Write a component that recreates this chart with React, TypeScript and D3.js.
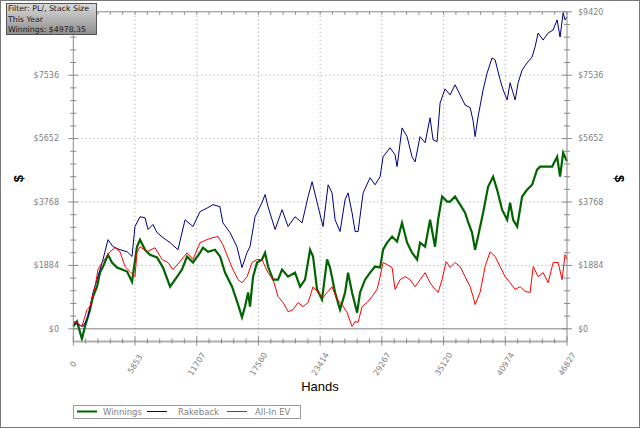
import { useEffect, useRef } from 'react'
import * as d3 from 'd3'

type Pt = [number, number] // [hands, dollars]

const handTicks = [0, 5853, 11707, 17560, 23414, 29267, 35120, 40974, 46827]
const dollarTicks = [0, 1884, 3768, 5652, 7536, 9420]
const dollarMin = -377
const seriesNames = ['Winnings', 'Rakeback', 'All-In EV']
const seriesColors = ['#006400', '#000080', '#ff0000']
const filterLines = ['Filter: PL/, Stack Size', 'This Year', 'Winnings: $4978.35']

const winnings: Pt[] = [
  [0, 70], [350, 220], [820, -300], [1110, 70], [1580, 570], [1870, 960], [2250, 1250], [2530, 1670],
  [2820, 1850], [3290, 2200], [3670, 1970], [4150, 1820], [4620, 1760], [5100, 1700], [5570, 1400],
  [6040, 2440], [6330, 2650], [6800, 2350], [7280, 2200], [7940, 2120], [8510, 1820], [9180, 1250],
  [9650, 1460], [10310, 1760], [10790, 2150], [11350, 1970], [12020, 2260], [12300, 2410], [12780, 2290],
  [13440, 2350], [13920, 2150], [14390, 1670], [15060, 1250], [15630, 720], [16000, 340], [16290, 660],
  [16580, 1080], [16760, 660], [17050, 1550], [17430, 1970], [17900, 2060], [18190, 2260], [18470, 1850],
  [18950, 1460], [19420, 1460], [19800, 1760], [20370, 1550], [21030, 1670], [21510, 1250], [21980, 1460],
  [22460, 2350], [22740, 2150], [23120, 1170], [23590, 870], [24070, 2060], [24350, 1820], [24830, 1080],
  [25300, 570], [25780, 1080], [26060, 1670], [26440, 1080], [26920, 480], [27200, 1080], [27670, 1460],
  [28150, 1670], [28620, 1850], [29100, 1820], [29380, 2350], [29760, 2560], [30240, 2740], [30710, 2590],
  [31180, 3150], [31660, 2560], [32130, 2260], [32610, 2060], [32890, 2560], [33370, 2440], [33840, 3240],
  [34310, 2440], [34600, 3240], [34980, 3930], [35450, 3780], [35740, 3780], [36210, 3930], [36690, 3690],
  [37160, 3450], [37440, 3180], [37820, 2860], [38110, 2350], [38390, 2740], [38870, 3450], [39340, 4220],
  [39820, 4520], [40200, 4130], [40670, 3540], [41150, 3240], [41430, 3750], [41720, 3240], [42100, 3040],
  [42570, 3930], [43040, 4130], [43520, 4280], [43990, 4730], [44280, 4820], [44940, 4820], [45420, 4820],
  [45890, 5110], [46170, 4520], [46460, 5230], [46827, 4978],
]

const rakeback: Pt[] = [
  [0, 190], [450, 130], [920, 70], [1390, 340], [1870, 1080], [2250, 1460], [2820, 2060], [3290, 2650],
  [3770, 2440], [4430, 2350], [5100, 2290], [5570, 2150], [5850, 3040], [6330, 3330], [6800, 3300],
  [7090, 2950], [7560, 3100], [7940, 2860], [8510, 2710], [9180, 2560], [9930, 2350], [10600, 3240],
  [11350, 3040], [12020, 3480], [12760, 3600], [13240, 3690], [13900, 3630], [14190, 3150], [14860, 2860],
  [15520, 2440], [16000, 1820], [16470, 2260], [16760, 2440], [17240, 3330], [17900, 3750], [18190, 3990],
  [18470, 3630], [19140, 2950], [19800, 3540], [20370, 3040], [21030, 3330], [21700, 3150], [22270, 3930],
  [22650, 4370], [23220, 3630], [23690, 3040], [24170, 4280], [24540, 4040], [24830, 3240], [25300, 2890],
  [25780, 3840], [26060, 4040], [26440, 3450], [26730, 2890], [27010, 2890], [27490, 4040], [28150, 4490],
  [28620, 4280], [29100, 4520], [29380, 5110], [30040, 5380], [30520, 5170], [30710, 4820], [31180, 5970],
  [31660, 5710], [32130, 5110], [32420, 4960], [32890, 5710], [33370, 5530], [33840, 6270], [34120, 5620],
  [34500, 5560], [34790, 6710], [35260, 7130], [35740, 6950], [36210, 7250], [36690, 6950], [37160, 6650],
  [37640, 6570], [37920, 6180], [38110, 5710], [38390, 6300], [38870, 7100], [39250, 7600], [39720, 8050],
  [40010, 7990], [40480, 7400], [40770, 7100], [41150, 6800], [41430, 7310], [41910, 6800], [42190, 7310],
  [42570, 7690], [43040, 7900], [43520, 8080], [43800, 8380], [44090, 8790], [44560, 8580], [45040, 8790],
  [45510, 8880], [45890, 9180], [46170, 8670], [46460, 9390], [46640, 9180], [46827, 9270],
]

const allInEV: Pt[] = [
  [0, 190], [160, 220], [820, 70], [1300, 570], [1580, 660], [2060, 1250], [2340, 1760], [2720, 1970],
  [3200, 2150], [3480, 2290], [3960, 2410], [4430, 2290], [4900, 1850], [5380, 1700], [5850, 1550],
  [6040, 2260], [6330, 2440], [6990, 2290], [7750, 2410], [8420, 2060], [8980, 1970], [9460, 1760],
  [10120, 2000], [10790, 2260], [11350, 2060], [12020, 2560], [12680, 2650], [13240, 2710], [13730, 2740],
  [14190, 2500], [14670, 2120], [15140, 1760], [15630, 1460], [16000, 1370], [16480, 1550], [16950, 1970],
  [17430, 2060], [17900, 2060], [18190, 1850], [18470, 1670], [18950, 1460], [19420, 960], [19900, 780],
  [20370, 510], [20840, 570], [21320, 780], [21790, 660], [22270, 780], [22740, 1250], [23220, 1080],
  [23690, 930], [24070, 1080], [24540, 1250], [25020, 870], [25490, 720], [25970, 480], [26440, 70],
  [26730, 220], [27010, 190], [27390, 660], [27860, 780], [28340, 960], [28810, 1170], [29100, 1550],
  [29380, 1970], [29760, 1910], [30240, 1820], [30520, 1170], [30990, 1460], [31470, 1550], [31940, 1460],
  [32420, 1250], [32890, 1460], [33370, 1670], [33840, 1370], [34310, 1170], [34600, 1080], [34980, 1460],
  [35360, 2000], [35740, 1820], [36210, 1970], [36690, 1850], [37160, 1550], [37640, 1250], [37920, 960],
  [38110, 720], [38580, 1080], [39060, 1850], [39530, 2290], [40010, 2150], [40480, 1850], [40960, 1550],
  [41430, 1370], [41910, 1170], [42380, 1250], [42860, 1110], [43330, 1080], [43620, 1850], [44090, 1550],
  [44560, 1670], [45040, 1370], [45510, 1970], [45990, 1970], [46360, 1460], [46640, 2200], [46827, 2060],
]

const seriesData = [winnings, rakeback, allInEV]

function minorTicks(major: number[], parts: number) {
  const out: number[] = []
  for (let i = 0; i < major.length - 1; i++) {
    const step = (major[i + 1] - major[i]) / parts
    for (let k = 1; k < parts; k++) out.push(major[i] + step * k)
  }
  return out
}

export default function App() {
  const svgRef = useRef<SVGSVGElement>(null)

  useEffect(() => {
    if (!svgRef.current) return
    const width = 640
    const height = 429
    const L = 73.3, R = 567, T = 11.8, B = 341.5

    const svg = d3.select(svgRef.current)
    svg.selectAll('*').remove()
    svg.attr('width', width).attr('height', height)

    const x = d3.scaleLinear().domain([0, 46827]).range([L, R])
    const y = d3.scaleLinear().domain([dollarMin, 9420]).range([B, T])

    svg.append('rect').attr('width', width).attr('height', height).attr('fill', '#fff')
    svg.append('rect').attr('x', 0.5).attr('y', 0.5).attr('width', width - 1).attr('height', 427)
      .attr('fill', 'none').attr('stroke', '#7a7a7a')

    const font = 'DejaVu Sans, Verdana, sans-serif'
    const labelCol = '#7f7f7f'

    // dotted grid
    const grid = svg.append('g').attr('stroke', '#a0a0a0').attr('stroke-dasharray', '1,3')
    grid.selectAll('line.v').data(handTicks.slice(1, -1)).enter().append('line')
      .attr('x1', d => x(d)).attr('x2', d => x(d)).attr('y1', T).attr('y2', B)
    grid.selectAll('line.h').data(dollarTicks.slice(1, -1)).enter().append('line')
      .attr('x1', L).attr('x2', R).attr('y1', d => y(d)).attr('y2', d => y(d))

    // zero line
    svg.append('line').attr('x1', L).attr('x2', R).attr('y1', y(0)).attr('y2', y(0))
      .attr('stroke', '#808080')

    // series
    const line = d3.line<Pt>().x(d => x(d[0])).y(d => y(d[1]))
    const widths = [2.2, 1, 1]
    seriesData.forEach((s, i) => {
      svg.append('path').datum(s).attr('fill', 'none')
        .attr('stroke', seriesColors[i]).attr('stroke-width', widths[i])
        .attr('stroke-linejoin', 'miter').attr('d', line)
    })

    // frame / axes
    const ax = svg.append('g').attr('stroke', '#8a8a8a').attr('fill', 'none')
    ax.append('line').attr('x1', L).attr('x2', R).attr('y1', T).attr('y2', T)
    ax.append('line').attr('x1', L).attr('x2', L).attr('y1', T).attr('y2', B)
    ax.append('line').attr('x1', R).attr('x2', R).attr('y1', T).attr('y2', B)
    ax.append('line').attr('x1', L).attr('x2', R).attr('y1', B).attr('y2', B)
      .attr('stroke', '#b0b0b0').attr('stroke-width', 2)

    const xMinor = minorTicks(handTicks, 5)
    const yMinor = minorTicks(dollarTicks, 5)
    // bottom ticks
    ax.selectAll('line.xm').data(xMinor).enter().append('line')
      .attr('x1', d => x(d)).attr('x2', d => x(d)).attr('y1', B - 3).attr('y2', B + 2)
    ax.selectAll('line.xM').data(handTicks).enter().append('line')
      .attr('x1', d => x(d)).attr('x2', d => x(d)).attr('y1', B - 5).attr('y2', B + 4)
    // top ticks
    ax.selectAll('line.xt').data([...xMinor, ...handTicks]).enter().append('line')
      .attr('x1', d => x(d)).attr('x2', d => x(d)).attr('y1', T).attr('y2', T + 3)
    // left & right ticks
    ;[L, R].forEach(px => {
      ax.selectAll(null).data(yMinor).enter().append('line')
        .attr('x1', px - 3).attr('x2', px + 3).attr('y1', d => y(d)).attr('y2', d => y(d))
      ax.selectAll(null).data(dollarTicks).enter().append('line')
        .attr('x1', px - 5).attr('x2', px + 5).attr('y1', d => y(d)).attr('y2', d => y(d))
    })

    // y labels (the top-left one sits under the filter box in the original)
    const yl = svg.append('g').attr('font-family', font).attr('font-size', 8).attr('fill', labelCol)
    yl.selectAll('text.l').data(dollarTicks.slice(0, -1)).enter().append('text')
      .attr('x', 59).attr('y', d => y(d)).attr('dy', '0.35em').attr('text-anchor', 'end')
      .text(d => `$${d}`)
    yl.selectAll('text.r').data(dollarTicks).enter().append('text')
      .attr('x', 578).attr('y', d => y(d)).attr('dy', '0.35em').attr('text-anchor', 'start')
      .text(d => `$${d}`)

    // x labels, rotated about their centre below the tick
    svg.append('g').attr('font-family', font).attr('font-size', 8).attr('fill', labelCol)
      .selectAll('text').data(handTicks).enter().append('text')
      .attr('transform', d => `translate(${x(d)},${364}) rotate(-58)`)
      .attr('text-anchor', 'middle').attr('dy', '0.35em')
      .text(d => String(d))

    // axis titles
    svg.append('text').attr('x', 320).attr('y', 391).attr('text-anchor', 'middle')
      .attr('font-family', 'Liberation Sans, Arial, sans-serif').attr('font-size', 13).attr('fill', '#000')
      .text('Hands')
    svg.append('text').attr('transform', `translate(18,${(T + B) / 2 + 2}) rotate(-90)`)
      .attr('text-anchor', 'middle').attr('dy', '0.35em')
      .attr('font-family', 'Liberation Sans, Arial, sans-serif').attr('font-size', 13).attr('font-weight', 'bold')
      .text('$')
    svg.append('text').attr('transform', `translate(620,${(T + B) / 2 + 2}) rotate(90)`)
      .attr('text-anchor', 'middle').attr('dy', '0.35em')
      .attr('font-family', 'Liberation Sans, Arial, sans-serif').attr('font-size', 13).attr('font-weight', 'bold')
      .text('$')

    // legend
    const lg = svg.append('g')
    lg.append('rect').attr('x', 73.5).attr('y', 405.5).attr('width', 227).attr('height', 13)
      .attr('fill', '#fff').attr('stroke', '#9a9a9a')
    const legX = [77, 147, 227]
    const legTextX = [103, 178, 255]
    seriesNames.forEach((n, i) => {
      lg.append('line').attr('x1', legX[i]).attr('x2', legX[i] + 20).attr('y1', 411.5).attr('y2', 411.5)
        .attr('stroke', seriesColors[i]).attr('stroke-width', widths[i] > 1 ? 2 : 1)
      lg.append('text').attr('x', legTextX[i]).attr('y', 412).attr('dy', '0.35em')
        .attr('font-family', font).attr('font-size', 8.5).attr('fill', labelCol).text(n)
    })

    // filter info box
    const defs = svg.append('defs')
    const gr = defs.append('linearGradient').attr('id', 'box-grad').attr('x1', 0).attr('y1', 0).attr('x2', 0).attr('y2', 1)
    gr.append('stop').attr('offset', '0%').attr('stop-color', '#dcdcdc')
    gr.append('stop').attr('offset', '100%').attr('stop-color', '#8c8c8c')
    svg.append('rect').attr('x', 6.5).attr('y', 3.5).attr('width', 90).attr('height', 31)
      .attr('fill', 'url(#box-grad)').attr('stroke', '#555')
    svg.append('g').attr('font-family', font).attr('font-size', 7.8).attr('fill', '#1a1a1a')
      .selectAll('text').data(filterLines).enter().append('text')
      .attr('x', 8).attr('y', (_, i) => 11 + i * 10.5).text(d => d)
  }, [])

  return <svg ref={svgRef} style={{ position: 'absolute', left: 0, top: 0 }} />
}
